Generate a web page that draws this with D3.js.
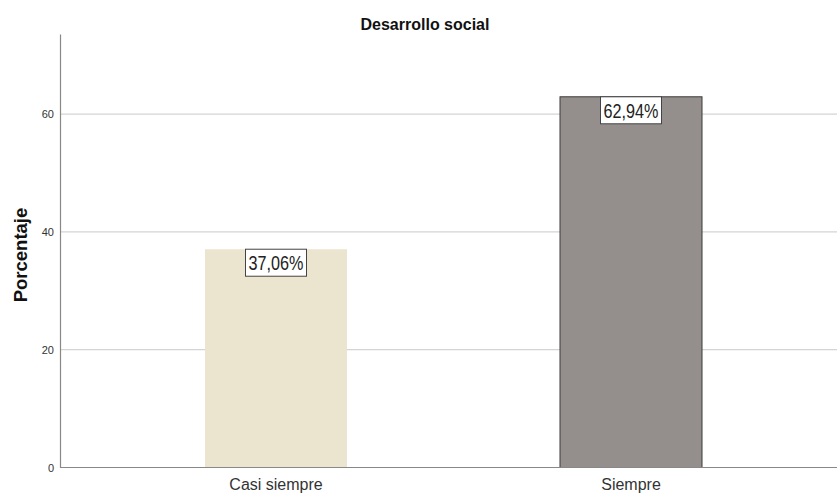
<!DOCTYPE html>
<html>
<head>
<meta charset="utf-8">
<script src="https://cdn.jsdelivr.net/npm/d3@7"></script>
<style>
  body { margin: 0; background: #fff; }
  text { font-family: Arial, "Liberation Sans", sans-serif; }
</style>
</head>
<body>
<svg></svg>
<script>
// chart data
let categories = ['Casi siempre', 'Siempre'];
let values = [37.06, 62.94];
let valueLabels = ['37,06%', '62,94%'];
let barColors = ['#ebe5cf', '#948f8c'];
let yTicks = [0, 20, 40, 60];

let width = 837;
let height = 495;

let svg = d3.select('svg')
    .attr('width', width)
    .attr('height', height);

// scales
let xScale = d3.scaleBand()
    .domain(categories)
    .range([98.5, 808.5])
    .paddingInner(0.6)
    .paddingOuter(0.3);

let yScale = d3.scaleLinear()
    .domain([0, 73.6])
    .range([467.5, 34]);

// gridlines
svg.append('g')
    .selectAll('line')
    .data(yTicks.filter(d => d > 0))
    .enter()
    .append('line')
    .attr('x1', 60)
    .attr('x2', width)
    .attr('y1', d => yScale(d))
    .attr('y2', d => yScale(d))
    .attr('stroke', '#d4d4d4')
    .attr('stroke-width', 1.2);

// bars
svg.append('g')
    .selectAll('rect')
    .data(values)
    .enter()
    .append('rect')
    .attr('x', (d, i) => xScale(categories[i]))
    .attr('y', d => yScale(d))
    .attr('width', xScale.bandwidth())
    .attr('height', d => yScale(0) - yScale(d))
    .attr('fill', (d, i) => barColors[i])
    .attr('stroke', (d, i) => i === 1 ? '#3a3a3a' : 'none')
    .attr('stroke-width', 1);

// value labels in boxes
let labelG = svg.append('g')
    .selectAll('g')
    .data(values)
    .enter()
    .append('g')
    .attr('transform', (d, i) =>
        `translate(${xScale(categories[i]) + xScale.bandwidth() / 2}, ${yScale(d)})`);

labelG.append('rect')
    .attr('x', -30.5)
    .attr('y', 0)
    .attr('width', 61)
    .attr('height', 27)
    .attr('fill', '#fff')
    .attr('stroke', '#444')
    .attr('stroke-width', 1);

// narrow look: squeeze the text horizontally
labelG.append('text')
    .attr('transform', 'translate(0, 21) scale(0.81, 1)')
    .attr('text-anchor', 'middle')
    .attr('font-size', '20px')
    .attr('fill', '#222')
    .text((d, i) => valueLabels[i]);

// y axis
let yAxis = d3.axisLeft(yScale)
    .tickValues(yTicks)
    .tickSize(0)
    .tickPadding(6);

let yAxisG = svg.append('g')
    .attr('transform', 'translate(60, 0)')
    .call(yAxis);
yAxisG.select('.domain').attr('stroke', '#888').attr('stroke-width', 1.2);
yAxisG.selectAll('text')
    .attr('font-size', '11px')
    .attr('fill', '#333')
    .style('font-family', 'Arial, "Liberation Sans", sans-serif');

// x axis
svg.append('line')
    .attr('x1', 60)
    .attr('x2', width)
    .attr('y1', yScale(0))
    .attr('y2', yScale(0))
    .attr('stroke', '#888')
    .attr('stroke-width', 1.2);

let xAxis = d3.axisBottom(xScale).tickSize(0).tickPadding(11);
let xAxisG = svg.append('g')
    .attr('transform', `translate(0, ${yScale(0)})`)
    .call(xAxis);
xAxisG.select('.domain').remove();
xAxisG.selectAll('text')
    .attr('font-size', '16px')
    .attr('fill', '#333')
    .style('font-family', 'Arial, "Liberation Sans", sans-serif');

// title
svg.append('text')
    .attr('x', 425)
    .attr('y', 30)
    .attr('text-anchor', 'middle')
    .attr('font-size', '16px')
    .attr('font-weight', 'bold')
    .attr('fill', '#111')
    .text('Desarrollo social');

// y axis title
svg.append('text')
    .attr('transform', 'translate(27, 255) rotate(-90)')
    .attr('text-anchor', 'middle')
    .attr('font-size', '18.5px')
    .attr('font-weight', 'bold')
    .attr('fill', '#111')
    .text('Porcentaje');
</script>
</body>
</html>
